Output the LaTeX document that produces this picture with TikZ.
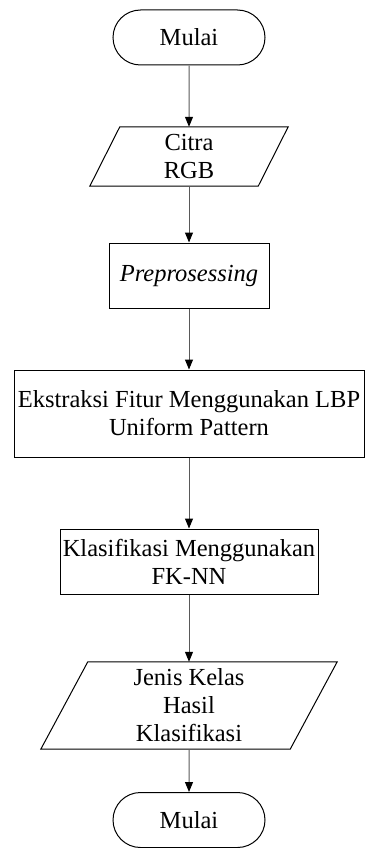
\documentclass[tikz,border=0pt]{standalone}
\usepackage{fontspec}
\setmainfont{Liberation Serif}
\usetikzlibrary{arrows.meta,shapes.misc}
\begin{document}
\begin{tikzpicture}[x=1pt,y=-1pt,
  every node/.style={font=\fontsize{24.5}{28}\selectfont, align=center, inner sep=0pt},
  term/.style={draw=black, line width=1pt, rounded rectangle, minimum width=152pt, minimum height=55pt},
  proc/.style={draw=black, line width=1pt, rectangle},
  io/.style={rectangle},
  shapeline/.style={draw=black, line width=1pt},
  conn/.style={draw=gray!70!black, line width=1pt, -{Triangle[length=10pt,width=8pt,color=black]}}]
\useasboundingbox (0,0) rectangle (365,848);

\node[term] (start) at (189,37.5) {Mulai};

\node[io, minimum width=168pt, minimum height=59pt] (in) at (189,156.5) {Citra\\RGB};
\draw[shapeline] ([xshift=15pt]in.north west) -- ([xshift=15pt]in.north east)
  -- ([xshift=-15pt]in.south east) -- ([xshift=-15pt]in.south west) -- cycle;

\node[proc, minimum width=160pt, minimum height=65pt] (pre) at (189,275.5) {\textit{Preprosessing}};

\node[proc, minimum width=350pt, minimum height=87pt] (ekstr) at (189,413.5) {Ekstraksi Fitur Menggunakan LBP\\Uniform Pattern};

\node[proc, minimum width=258pt, minimum height=65pt] (klas) at (189,561.5) {Klasifikasi Menggunakan\\FK-NN};

\node[io, minimum width=249pt, minimum height=87pt] (out) at (189,705.5) {Jenis Kelas\\Hasil\\Klasifikasi};
\draw[shapeline] ([xshift=23.5pt]out.north west) -- ([xshift=23.5pt]out.north east)
  -- ([xshift=-23.5pt]out.south east) -- ([xshift=-23.5pt]out.south west) -- cycle;

\node[term] (stop) at (189,820) {Mulai};

\draw[conn] (start) -- (in);
\draw[conn] (in) -- (pre);
\draw[conn] (pre) -- (ekstr);
\draw[conn] (ekstr) -- (klas);
\draw[conn] (klas) -- (out);
\draw[conn] (out) -- (stop);
\end{tikzpicture}
\end{document}
